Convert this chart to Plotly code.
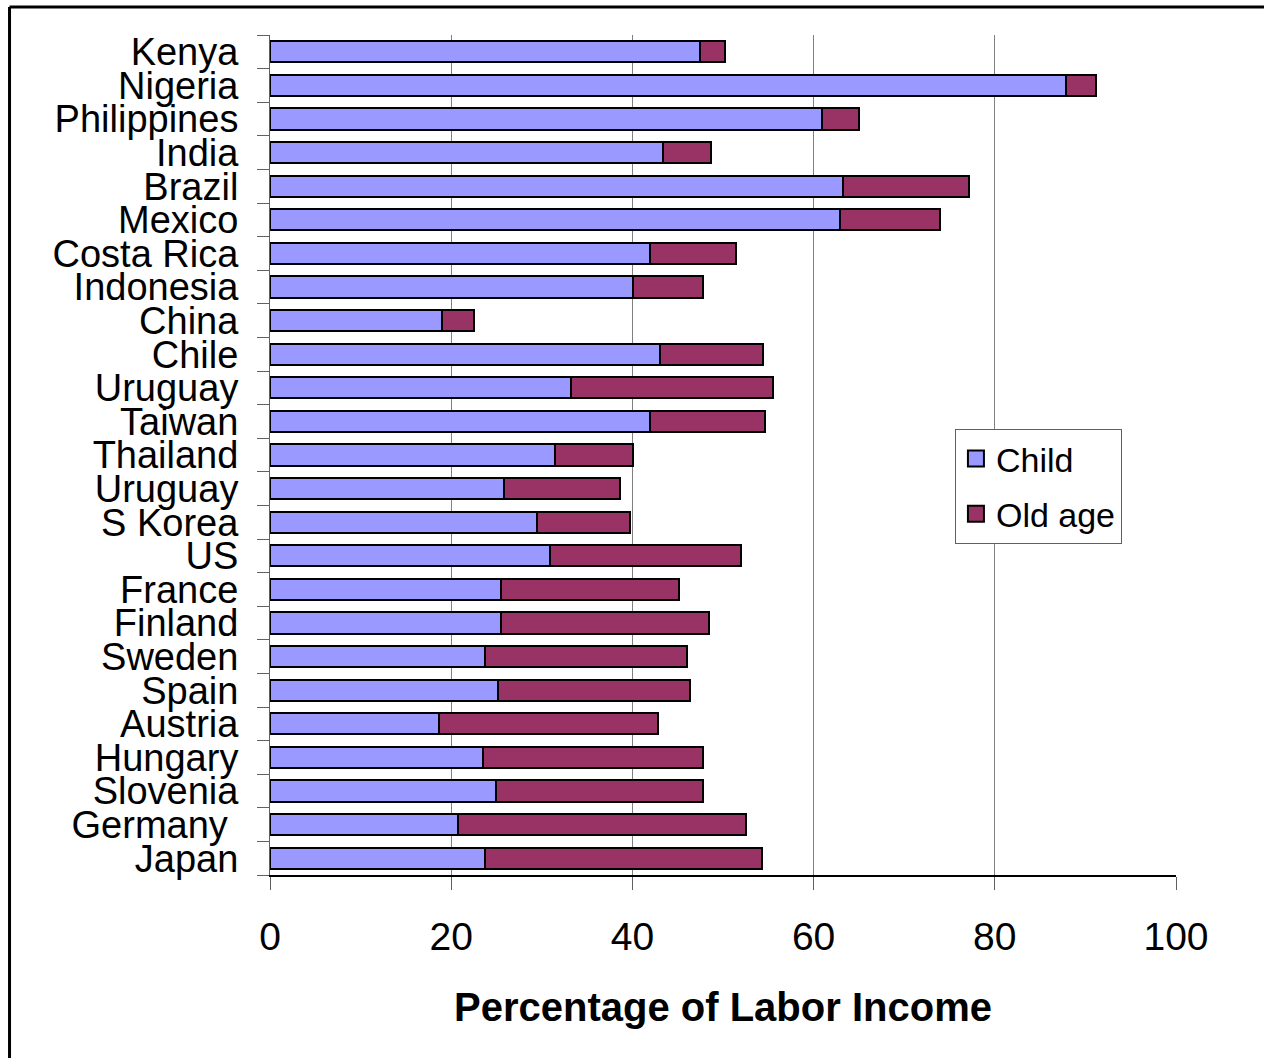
import plotly.graph_objects as go

categories = ["Kenya", "Nigeria", "Philippines", "India", "Brazil", "Mexico",
              "Costa Rica", "Indonesia", "China", "Chile", "Uruguay", "Taiwan",
              "Thailand", "Uruguay", "S Korea", "US", "France", "Finland",
              "Sweden", "Spain", "Austria", "Hungary", "Slovenia",
              "Germany\u00a0", "Japan"]
child = [47.5, 87.9, 60.9, 43.4, 63.2, 62.9, 41.9, 40.1, 19.0, 43.0, 33.2, 41.9,
         31.5, 25.8, 29.5, 30.9, 25.5, 25.5, 23.7, 25.2, 18.7, 23.5, 24.9, 20.8, 23.7]
old_age = [2.7, 3.3, 4.1, 5.3, 14.0, 11.1, 9.5, 7.7, 3.5, 11.4, 22.3, 12.7,
           8.6, 12.8, 10.2, 21.1, 19.6, 23.0, 22.3, 21.2, 24.1, 24.3, 22.9, 31.7, 30.6]
x_ticks = [0, 20, 40, 60, 80, 100]

positions = list(range(len(categories)))
FONT = "Liberation Sans, Arial, sans-serif"
CHILD_COLOR = "#9999FF"
OLD_COLOR = "#993366"

fig = go.Figure()
fig.add_trace(go.Bar(y=positions, x=child, orientation="h", name="Child",
                     marker=dict(color=CHILD_COLOR, line=dict(color="black", width=2)),
                     showlegend=False))
fig.add_trace(go.Bar(y=positions, x=old_age, orientation="h", name="Old age",
                     marker=dict(color=OLD_COLOR, line=dict(color="black", width=2)),
                     showlegend=False))
# legend entries with larger square symbols
for nm, col, grp in [("Child", CHILD_COLOR, "a"), ("Old age", OLD_COLOR, "b")]:
    fig.add_trace(go.Scatter(x=[None], y=[None], mode="markers", name=nm,
                             legendgroup=grp,
                             marker=dict(symbol="square", size=16, color=col,
                                         line=dict(color="black", width=2))))

fig.update_layout(
    width=1264, height=1058,
    margin=dict(l=270, r=88, t=35, b=183, pad=0),
    barmode="stack", bargap=0.37,
    plot_bgcolor="white", paper_bgcolor="white",
    font=dict(family=FONT, size=38, color="black"),
    showlegend=True,
    legend=dict(x=0.756, y=0.531, xanchor="left", yanchor="top",
                bordercolor="#606060", borderwidth=1, bgcolor="white",
                font=dict(size=34, family=FONT), traceorder="grouped",
                tracegroupgap=8, itemwidth=30),
    xaxis=dict(range=[0, 100], tickvals=x_ticks, ticks="outside", ticklen=13,
               tickcolor="#606060", showgrid=True, gridcolor="#808080", gridwidth=1,
               showline=True, linecolor="black", linewidth=1.5,
               zeroline=False, tickfont=dict(size=39), ticklabelstandoff=13,
               title=dict(text="<b>Percentage of Labor Income</b>",
                          font=dict(size=40), standoff=36)),
    yaxis=dict(range=[len(categories) - 0.5, -0.5], tickvals=positions,
               ticktext=categories, ticks="", showgrid=False, zeroline=False,
               showline=True, linecolor="#606060", linewidth=1,
               tickfont=dict(size=38), ticklabelstandoff=23,
               minor=dict(tickmode="linear", tick0=0.5, dtick=1, ticks="outside",
                          ticklen=12, tickcolor="#606060", showgrid=False)),
    shapes=[
        dict(type="line", xref="paper", yref="paper", x0=-0.2875, x1=-0.2875,
             y0=-0.3, y1=1.0333, line=dict(color="black", width=3)),
        dict(type="line", xref="paper", yref="paper", x0=-0.2875, x1=1.2,
             y0=1.0333, y1=1.0333, line=dict(color="black", width=3)),
    ],
)

fig.write_html("out.html")
